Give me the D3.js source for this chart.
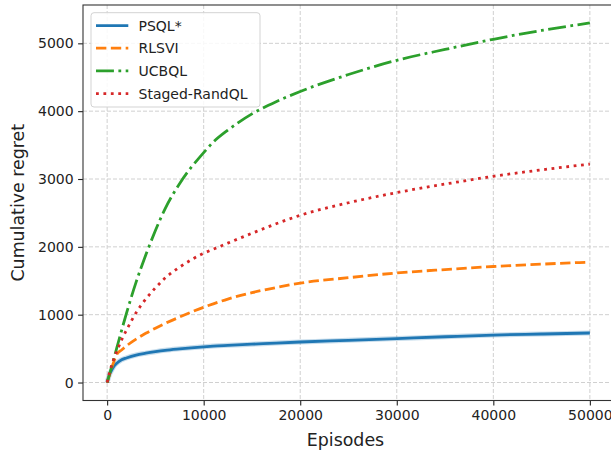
<!DOCTYPE html>
<html>
<head>
<meta charset="utf-8">
<script src="https://cdn.jsdelivr.net/npm/d3@7"></script>
<style>
  html, body { margin: 0; padding: 0; background: #fff; }
  svg { display: block; font-family: "DejaVu Sans", sans-serif; }
</style>
</head>
<body>
<svg id="chart" width="611" height="450"></svg>
<script>
// ---- data ----
const seriesNames = ["PSQL*", "RLSVI", "UCBQL", "Staged-RandQL"];
const episodes = [0, 250, 500, 750, 1000, 1500, 2000, 3000, 4000, 5000, 6000, 7500, 10000, 11000, 12500, 15000, 17500, 20000, 25000, 30000, 35000, 40000, 45000, 50000];
const psqlValues   = [0, 120, 190, 250, 285, 335, 362, 405, 432, 455, 475, 497, 527, 537, 548, 565, 582, 597, 622, 648, 675, 700, 715, 730];
const rlsviValues  = [0, 115, 230, 330, 415, 480, 540, 640, 725, 800, 870, 965, 1110, 1160, 1230, 1325, 1400, 1465, 1545, 1615, 1665, 1710, 1745, 1775];
const ucbqlValues  = [0, 125, 250, 380, 510, 770, 1020, 1480, 1880, 2240, 2560, 2930, 3390, 3545, 3720, 3960, 4140, 4290, 4540, 4750, 4910, 5060, 5190, 5300];
const stagedValues = [0, 145, 270, 370, 460, 630, 770, 1030, 1230, 1395, 1540, 1700, 1905, 1965, 2055, 2200, 2340, 2465, 2650, 2800, 2925, 3040, 3135, 3220];
const xTicks = [0, 10000, 20000, 30000, 40000, 50000];
const yTicks = [0, 1000, 2000, 3000, 4000, 5000];
const xLabel = "Episodes";
const yLabel = "Cumulative regret";

// ---- styles ----
const colors = ["#1f77b4", "#ff7f0e", "#2ca02c", "#d62728"];
const lw = 2.8;
const dashes = [null, `${3.7*lw},${1.6*lw}`, `${6.4*lw},${1.6*lw},${1*lw},${1.6*lw}`, `${1*lw},${1.65*lw}`];
const allValues = [psqlValues, rlsviValues, ucbqlValues, stagedValues];

const svg = d3.select("#chart");
const pLeft = 83, pRight = 614, pTop = 5, pBottom = 400.5;

const x = d3.scaleLinear().domain([-2500, 52500]).range([pLeft, pRight]);
const y = d3.scaleLinear().domain([-265, 5565]).range([pBottom, pTop]);

// clip
svg.append("defs").append("clipPath").attr("id", "clip")
  .append("rect").attr("x", pLeft).attr("y", pTop).attr("width", pRight - pLeft).attr("height", pBottom - pTop);

// grid
const grid = svg.append("g");
grid.selectAll(".gx").data(xTicks).join("line")
  .attr("x1", d => x(d)).attr("x2", d => x(d)).attr("y1", pTop).attr("y2", pBottom)
  .attr("stroke", "#d0d0d0").attr("stroke-width", 1).attr("stroke-dasharray", "4,2");
grid.selectAll(".gy").data(yTicks).join("line")
  .attr("x1", pLeft).attr("x2", pRight).attr("y1", d => y(d)).attr("y2", d => y(d))
  .attr("stroke", "#d0d0d0").attr("stroke-width", 1).attr("stroke-dasharray", "4,2");

// lines
const plot = svg.append("g").attr("clip-path", "url(#clip)");
allValues.forEach((vals, i) => {
  const pts = episodes.map((e, j) => [e, vals[j]]);
  const line = d3.line().x(d => x(d[0])).y(d => y(d[1])).curve(d3.curveMonotoneX);
  if (i === 0) {
    plot.append("path").attr("d", line(pts)).attr("fill", "none")
      .attr("stroke", colors[0]).attr("stroke-opacity", 0.25).attr("stroke-width", lw + 2.2);
  }
  plot.append("path").attr("d", line(pts))
    .attr("fill", "none").attr("stroke", colors[i]).attr("stroke-width", lw)
    .attr("stroke-dasharray", dashes[i]).attr("stroke-linejoin", "round");
});

// axes
const xAxis = d3.axisBottom(x).tickValues(xTicks).tickSizeOuter(0).tickSize(4.9).tickPadding(4.5).tickFormat(d3.format("d"));
const yAxis = d3.axisLeft(y).tickValues(yTicks).tickSizeOuter(0).tickSize(4.9).tickPadding(4.5).tickFormat(d3.format("d"));
const gx = svg.append("g").attr("transform", `translate(0,${pBottom})`).call(xAxis);
const gy = svg.append("g").attr("transform", `translate(${pLeft},0)`).call(yAxis);
[gx, gy].forEach(g => {
  g.select(".domain").remove();
  g.selectAll(".tick line").attr("stroke", "#222").attr("stroke-width", 1.1);
  g.selectAll(".tick text").attr("fill", "#222").style("font-size", "14px").style("font-family", "DejaVu Sans");
});

// spines
svg.append("rect").attr("x", pLeft).attr("y", pTop).attr("width", pRight - pLeft).attr("height", pBottom - pTop)
  .attr("fill", "none").attr("stroke", "#333").attr("stroke-width", 1.1);

// axis labels
svg.append("text").attr("x", (pLeft + pRight) / 2 - 3).attr("y", 446)
  .attr("text-anchor", "middle").attr("fill", "#222").style("font-size", "17.4px").text(xLabel);
svg.append("text").attr("transform", `translate(23.5,${(pTop + pBottom) / 2}) rotate(-90)`)
  .attr("text-anchor", "middle").attr("fill", "#222").style("font-size", "17.4px").text(yLabel);

// legend
const lg = svg.append("g");
lg.append("rect").attr("x", 91).attr("y", 12.7).attr("width", 169).attr("height", 94.3).attr("rx", 3)
  .attr("fill", "#fff").attr("fill-opacity", 0.85).attr("stroke", "#d3d3d3").attr("stroke-width", 1);
const rowY = [25.7, 48.2, 70.8, 93.6];
seriesNames.forEach((name, i) => {
  lg.append("line").attr("x1", 96).attr("x2", 128.3).attr("y1", rowY[i]).attr("y2", rowY[i])
    .attr("stroke", colors[i]).attr("stroke-width", lw).attr("stroke-dasharray", dashes[i]);
  lg.append("text").attr("x", 138.5).attr("y", rowY[i] + 5.2).attr("fill", "#222")
    .style("font-size", "14px").text(name);
});
</script>
</body>
</html>
